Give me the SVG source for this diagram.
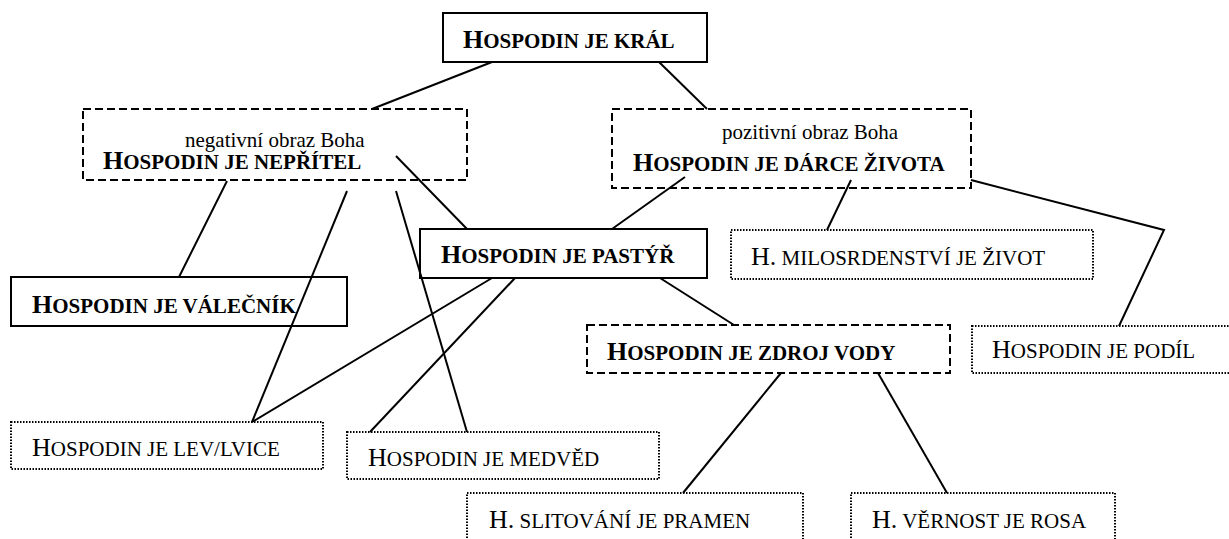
<svg xmlns="http://www.w3.org/2000/svg" width="1229" height="539" viewBox="0 0 1229 539">
  <style>
    .box { fill: none; stroke: #000; stroke-width: 2; }
    .dash { fill: none; stroke: #000; stroke-width: 2; stroke-dasharray: 8 4; }
    .dot { fill: none; stroke: #000; stroke-width: 2; stroke-dasharray: 1.5 1.5; }
    .edge { stroke: #000; stroke-width: 2; fill: none; }
    .bold { font-weight: bold; }
    .cap { font-size: 26px; }
    .sc { font-size: 21px; }
    .note { font-size: 21px; }
  </style>

  <g id="kral" font-family="Liberation Serif, DejaVu Serif, serif">
    <rect class="box" x="443" y="13" width="264" height="49"/>
    <text class="bold" x="463" y="48"><tspan class="cap">H</tspan><tspan class="sc">OSPODIN JE KRÁL</tspan></text>
  </g>

  <g id="nepritel" font-family="Liberation Serif, DejaVu Serif, serif">
    <rect class="dash" x="83" y="109" width="384" height="71"/>
    <text class="note" x="185" y="147">negativní obraz Boha</text>
    <text class="bold" x="103" y="169"><tspan class="cap">H</tspan><tspan class="sc">OSPODIN JE NEPŘÍTEL</tspan></text>
  </g>

  <g id="darce" font-family="Liberation Serif, DejaVu Serif, serif">
    <rect class="dash" x="612" y="109" width="359" height="79"/>
    <text class="note" x="722" y="139">pozitivní obraz Boha</text>
    <text class="bold" x="633" y="171"><tspan class="cap">H</tspan><tspan class="sc">OSPODIN JE DÁRCE ŽIVOTA</tspan></text>
  </g>

  <g id="valecnik" font-family="Liberation Serif, DejaVu Serif, serif">
    <rect class="box" x="11" y="277" width="336" height="49"/>
    <text class="bold" x="32" y="313"><tspan class="cap">H</tspan><tspan class="sc">OSPODIN JE VÁLEČNÍK</tspan></text>
  </g>

  <g id="pastyr" font-family="Liberation Serif, DejaVu Serif, serif">
    <rect class="box" x="420" y="229" width="287" height="49"/>
    <text class="bold" x="441" y="263"><tspan class="cap">H</tspan><tspan class="sc">OSPODIN JE PASTÝŘ</tspan></text>
  </g>

  <g id="milosrdenstvi" font-family="Liberation Serif, DejaVu Serif, serif">
    <rect class="dot" x="731" y="230" width="362" height="49"/>
    <text x="751" y="265"><tspan class="cap">H.</tspan><tspan class="sc"> MILOSRDENSTVÍ JE ŽIVOT</tspan></text>
  </g>

  <g id="zdroj" font-family="Liberation Serif, DejaVu Serif, serif">
    <rect class="dash" x="587" y="325" width="363" height="48"/>
    <text class="bold" x="607" y="360"><tspan class="cap">H</tspan><tspan class="sc">OSPODIN JE ZDROJ VODY</tspan></text>
  </g>

  <g id="podil" font-family="Liberation Serif, DejaVu Serif, serif">
    <rect class="dot" x="972" y="326" width="270" height="47"/>
    <text x="992" y="358"><tspan class="cap">H</tspan><tspan class="sc">OSPODIN JE PODÍL</tspan></text>
  </g>

  <g id="lev" font-family="Liberation Serif, DejaVu Serif, serif">
    <rect class="dot" x="11" y="422" width="312" height="47"/>
    <text x="32" y="456"><tspan class="cap">H</tspan><tspan class="sc">OSPODIN JE LEV/LVICE</tspan></text>
  </g>

  <g id="medved" font-family="Liberation Serif, DejaVu Serif, serif">
    <rect class="dot" x="347" y="432" width="312" height="47"/>
    <text x="368" y="466"><tspan class="cap">H</tspan><tspan class="sc">OSPODIN JE MEDVĚD</tspan></text>
  </g>

  <g id="slitovani" font-family="Liberation Serif, DejaVu Serif, serif">
    <rect class="dot" x="467" y="493" width="336" height="60"/>
    <text x="489" y="528"><tspan class="cap">H.</tspan><tspan class="sc"> SLITOVÁNÍ JE PRAMEN</tspan></text>
  </g>

  <g id="vernost" font-family="Liberation Serif, DejaVu Serif, serif">
    <rect class="dot" x="851" y="493" width="264" height="60"/>
    <text x="872" y="528"><tspan class="cap">H.</tspan><tspan class="sc"> VĚRNOST JE ROSA</tspan></text>
  </g>

  <!-- connectors, drawn over the boxes -->
  <g id="connectors">
    <line class="edge" x1="492" y1="62" x2="372" y2="109"/>
    <line class="edge" x1="659" y1="62" x2="707" y2="109"/>
    <line class="edge" x1="227" y1="181" x2="179" y2="277"/>
    <line class="edge" x1="347" y1="191" x2="252" y2="422"/>
    <line class="edge" x1="396" y1="156" x2="467" y2="229"/>
    <line class="edge" x1="396" y1="191" x2="467" y2="432"/>
    <line class="edge" x1="685" y1="177" x2="612" y2="229"/>
    <line class="edge" x1="851" y1="180" x2="827" y2="230"/>
    <polyline class="edge" points="971,180 1164,230 1119,326"/>
    <line class="edge" x1="492" y1="278" x2="252" y2="422"/>
    <line class="edge" x1="515" y1="278" x2="370" y2="432"/>
    <line class="edge" x1="660" y1="278" x2="734" y2="325"/>
    <line class="edge" x1="781" y1="373" x2="683" y2="493"/>
    <line class="edge" x1="878" y1="373" x2="947" y2="493"/>
  </g>
</svg>
